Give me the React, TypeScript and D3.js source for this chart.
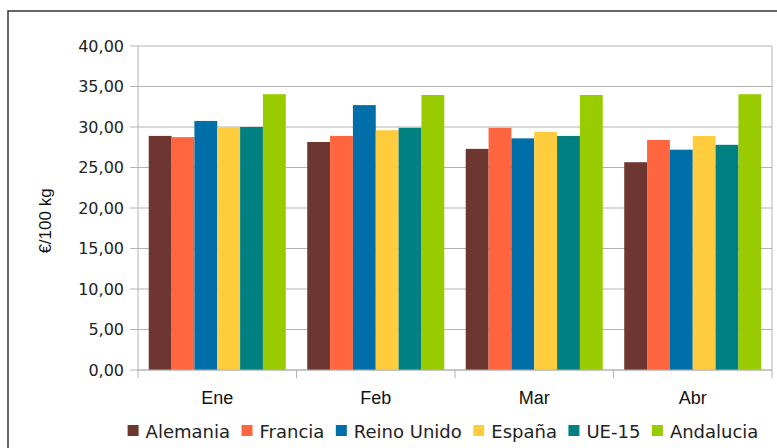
import * as d3 from "d3";
import React from "react";

const months = ["Ene", "Feb", "Mar", "Abr"];
const seriesNames = ["Alemania", "Francia", "Reino Unido", "España", "UE-15", "Andalucia"];
const seriesColors = ["#6e3630", "#ff6640", "#006ea8", "#ffcc3d", "#008080", "#99cc00"];
const alemania = [28.9, 28.15, 27.3, 25.65];
const francia = [28.75, 28.9, 29.9, 28.4];
const reinoUnido = [30.75, 32.7, 28.6, 27.2];
const espana = [29.95, 29.6, 29.4, 28.9];
const ue15 = [30.0, 29.9, 28.9, 27.8];
const andalucia = [34.05, 33.95, 33.95, 34.05];
const yTicks = [0, 5, 10, 15, 20, 25, 30, 35, 40];

const seriesValues = [alemania, francia, reinoUnido, espana, ue15, andalucia];

export default function App() {
  const width = 777;
  const height = 448;
  const margin = { top: 46, right: 5, bottom: 78, left: 138 };
  const legendRef = React.useRef<SVGGElement>(null);

  const x = d3
    .scaleBand()
    .domain(months)
    .range([margin.left, width - margin.right])
    .padding(0);
  const xInner = d3
    .scaleBand()
    .domain(seriesNames)
    .range([0, x.bandwidth()])
    .paddingInner(0)
    .paddingOuter(0.47);
  const y = d3
    .scaleLinear()
    .domain([0, 40])
    .range([height - margin.bottom, margin.top]);

  const fmt = (v: number) => v.toFixed(2).replace(".", ",");
  const gridColor = "#b3b3b3";
  const x0 = margin.left;
  const x1 = width - margin.right;
  const y0 = y(0);

  // lay the legend out from measured text widths, centred under the plot
  React.useEffect(() => {
    const g = d3.select(legendRef.current);
    const items = g.selectAll<SVGGElement, unknown>("g.item");
    const gap = 11.5;
    let cursor = 0;
    items.each(function () {
      const item = d3.select(this);
      const t = item.select<SVGTextElement>("text").node();
      const w = t ? t.getComputedTextLength() : 0;
      item.attr("transform", `translate(${cursor},0)`);
      cursor += 11 + 7 + w + gap;
    });
    const total = cursor - gap;
    g.attr("transform", `translate(${443 - total / 2},0)`);
  }, []);

  return (
    <svg
      width={width}
      height={height}
      style={{ position: "absolute", left: 0, top: 0, display: "block", background: "#fff" }}
    >
      <rect x={8} y={11} width={800} height={460} fill="#fff" stroke="#333" strokeWidth={1.5} />

      {/* horizontal grid */}
      {yTicks.map((t) => (
        <g key={t}>
          <line x1={x0 - 8} x2={x1} y1={y(t)} y2={y(t)} stroke={gridColor} strokeWidth={1} />
          <text
            x={124}
            y={y(t)}
            dy="0.35em"
            textAnchor="end"
            fontFamily="DejaVu Sans, sans-serif"
            fontSize={16}
            fill="#222"
          >
            {fmt(t)}
          </text>
        </g>
      ))}

      {/* axes frame */}
      <line x1={x0} x2={x0} y1={y(40)} y2={y0 + 8} stroke={gridColor} />
      <line x1={x1} x2={x1} y1={y(40)} y2={y0 + 8} stroke={gridColor} />
      {months.slice(1).map((m) => (
        <line key={m} x1={x(m)} x2={x(m)} y1={y0} y2={y0 + 8} stroke={gridColor} />
      ))}

      {/* bars */}
      {months.map((m, i) => (
        <g key={m} transform={`translate(${x(m)},0)`}>
          {seriesNames.map((s, j) => (
            <rect
              key={s}
              x={xInner(s)}
              y={y(seriesValues[j][i])}
              width={xInner.bandwidth()}
              height={y0 - y(seriesValues[j][i])}
              fill={seriesColors[j]}
            />
          ))}
        </g>
      ))}
      <line x1={x0} x2={x1} y1={y0} y2={y0} stroke={gridColor} />

      {/* category labels */}
      {months.map((m) => (
        <text
          key={m}
          x={(x(m) ?? 0) + x.bandwidth() / 2}
          y={404}
          textAnchor="middle"
          fontFamily="Liberation Sans, Arial, sans-serif"
          fontSize={18}
          fill="#111"
        >
          {m}
        </text>
      ))}

      {/* y axis title */}
      <text
        transform="translate(51,221) rotate(-90)"
        textAnchor="middle"
        fontFamily="Liberation Sans, Arial, sans-serif"
        fontSize={17}
        fill="#111"
      >
        €/100 kg
      </text>

      {/* legend */}
      <g ref={legendRef} transform="translate(127,0)">
        {seriesNames.map((s, j) => (
          <g className="item" key={s}>
            <rect x={0} y={425} width={11} height={11} fill={seriesColors[j]} />
            <text x={18} y={437.5} fontFamily="DejaVu Sans, sans-serif" fontSize={18} fill="#222">
              {s}
            </text>
          </g>
        ))}
      </g>
    </svg>
  );
}
